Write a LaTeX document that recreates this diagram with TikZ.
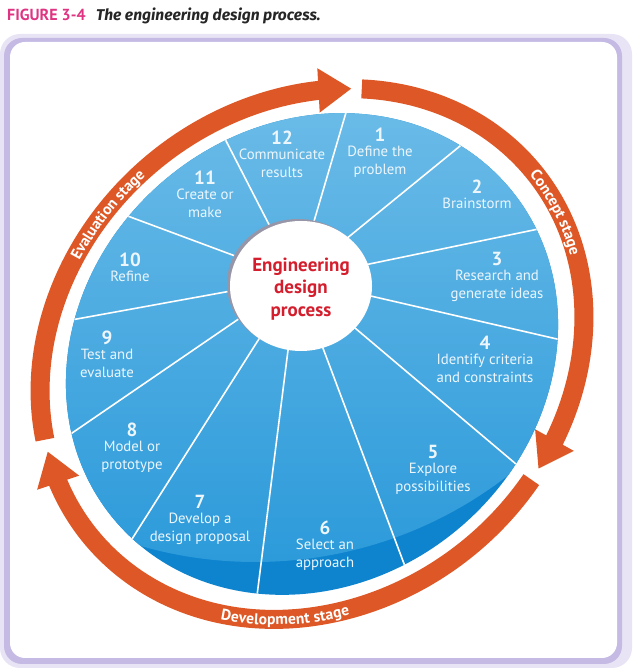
\documentclass[tikz,border=0pt]{standalone}
\usepackage{fontspec}
\setmainfont{PT Sans}
\newfontfamily\captfont{Fira Sans}
\usetikzlibrary{arrows.meta,bending,decorations.text,positioning}
\definecolor{ringorange}{RGB}{221,88,38}
\definecolor{disctop}{RGB}{108,188,232}
\definecolor{discbot}{RGB}{40,152,217}
\definecolor{discband}{RGB}{14,132,207}
\definecolor{figpink}{RGB}{222,52,130}
\definecolor{framelav}{RGB}{196,186,228}
\definecolor{framelavlt}{RGB}{232,228,245}
\definecolor{hubred}{RGB}{212,30,45}
\definecolor{rimgray}{RGB}{150,150,168}
\definecolor{labwhite}{RGB}{236,246,252}

\begin{document}
\begin{tikzpicture}[x=1pt,y=1pt,>=latex,
    ringarc/.style={draw=ringorange,line width=19pt},
    ringhead/.style={-{Triangle[length=33pt,width=42pt]}},
    numlabel/.style={text=labwhite,font=\bfseries\fontsize{19}{19}\selectfont,inner sep=0pt},
    seglabel/.style={text=labwhite,align=center,font=\fontsize{14.8}{18}\selectfont,inner sep=0pt},
    hubtext/.style={text=hubred,align=center,font=\bfseries\fontsize{19}{22.5}\selectfont,inner sep=0pt},
    stagetext/.style={decorate,decoration={text along path,text align=center,raise=-5.5pt,
        text={|\fontsize{15.5}{15.5}\selectfont\bfseries\color{white}|#1}}}]
    \useasboundingbox (0,0) rectangle (632,668);
    %%%%%%%%%%%%%%%%%%%%%%%%%%%%%%%%%%%%%%%%%% frame and caption
    \fill[framelavlt,rounded corners=20pt] (0,0) rectangle (632,634);
    \fill[framelav,rounded corners=18pt] (4,4) rectangle (622,630);
    \fill[white,rounded corners=15pt] (10,10) rectangle (617,626);
    \node[anchor=base west,inner sep=0pt,text=figpink,font=\bfseries\fontsize{16}{16}\selectfont] (figno) at (7,647) {FIGURE 3-4};
    \node[base right=10pt of figno,inner sep=0pt,text=black!85,font=\captfont\bfseries\itshape\fontsize{15.6}{15.6}\selectfont] (figcapt) {The engineering design process.};
    %%%%%%%%%%%%%%%%%%%%%%%%%%%%%%%%%%%%%%%%%% disc
    \begin{scope}[shift={(312,314)}]
        \begin{scope}
            \clip[rotate=40] (0,0) ellipse[x radius=258,y radius=228];
            \fill[discband] (-300,-300) rectangle (300,300);
            \begin{scope}
                \clip (-57,205) circle[radius=413];
                \shade[top color=disctop,bottom color=discbot] (-300,-240) rectangle (300,260);
            \end{scope}
            \foreach \a in {73.6,39.2,11.7,-13,-40.2,-69.4,-97.2,237.6,214.4,190.3,159.6,117.2}
            {
                \draw[white,line width=1.6pt] (-15,75) -- ++(\a:420);
            }
        \end{scope}
        \fill[rimgray] (-14,70) ellipse[x radius=71,y radius=65];
        \fill[white] (-11,68) ellipse[x radius=71,y radius=65];
        \node[hubtext] (hub) at (-11,65) {Engineering\\design\\process};
        \foreach \n/\x/\y/\t in {1/68/219/{Define the\\problem},12/-30/216/{Communicate\\results},
            11/-107/176/{Create or\\make},10/-182/94/{Refine},9/-205/16/{Test and\\evaluate},
            8/-180/-76/{Model or\\prototype},7/-112/-148/{Develop a\\design proposal},
            6/13/-174/{Select an\\approach},5/121/-98/{Explore\\possibilities},
            4/173/11/{Identify criteria\\and constraints},3/185/95/{Research and\\generate ideas},
            2/165/167/{Brainstorm}}
        {
            \node[numlabel] (n\n) at (\x,\y) {\n};
            \node[seglabel,below=3.5pt of n\n] (t\n) {\t};
        }
    \end{scope}
    %%%%%%%%%%%%%%%%%%%%%%%%%%%%%%%%%%%%%%%%%% stage arrows
    \begin{scope}[shift={(312,314)},rotate=40]
        \draw[ringarc,ringhead] (154.8:287 and 249) arc[start angle=154.8,end angle=45.6,x radius=287,y radius=249];
        \draw[ringarc,ringhead] (43.4:287 and 249) arc[start angle=43.4,end angle=-69.7,x radius=287,y radius=249];
        \draw[ringarc,ringhead] (-72.3:287 and 249) arc[start angle=-72.3,end angle=-202.5,x radius=287,y radius=249];
        \path[stagetext={Concept stage}] (16:287 and 249) arc[start angle=16,end angle=-38,x radius=287,y radius=249];
        \path[stagetext={Evaluation stage}] (130:287 and 249) arc[start angle=130,end angle=78,x radius=287,y radius=249];
        \path[stagetext={Development stage}] (201:287 and 249) arc[start angle=201,end angle=254,x radius=287,y radius=249];
    \end{scope}
\end{tikzpicture}
\end{document}
